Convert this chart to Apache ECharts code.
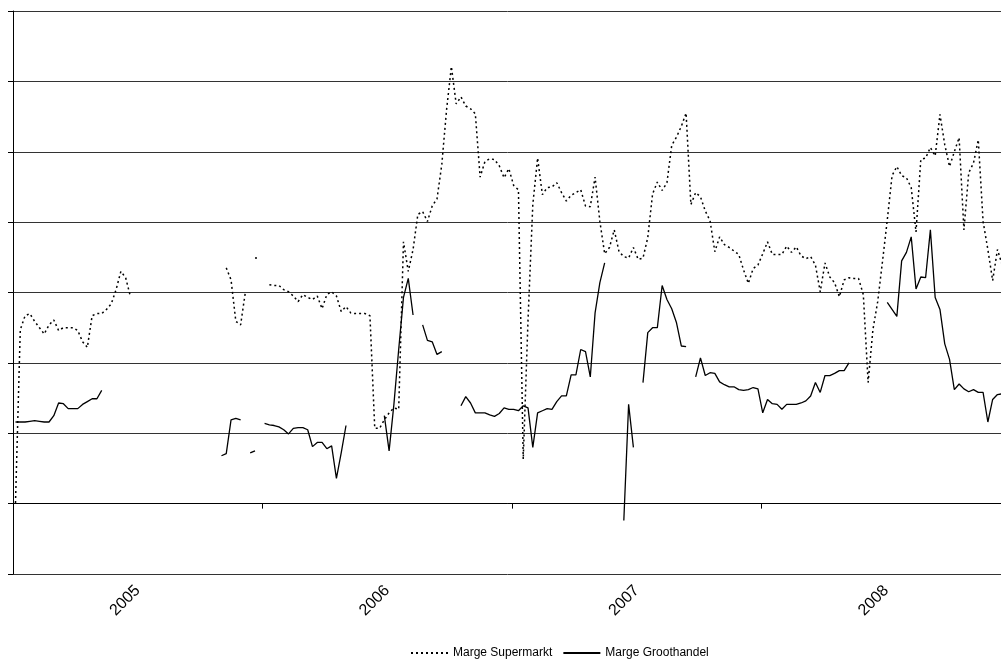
<!DOCTYPE html>
<html>
<head>
<meta charset="utf-8">
<script src="https://cdn.jsdelivr.net/npm/echarts@6.0.0/dist/echarts.min.js"></script>
<style>
  html, body { margin: 0; padding: 0; background: #fff; }
  #main { width: 1001px; height: 662px; }
</style>
</head>
<body>
<div id="main"></div>
<script>
// jaren op de x-as
var years = ['2005', '2006', '2007', '2008'];

// marges per week (week 0 = begin 2005), null = geen waarde
var supermarkt = [
  0.1, 24.7, 26.7, 27.0, 25.9, 25.0, 24.1, 25.4, 26.1, 24.6,
  25.0, 25.0, 25.0, 24.6, 23.0, 22.2, 26.7, 27.0, 27.0, 27.6,
  28.4, 30.4, 33.0, 32.1, 29.4, null, null, null, null, null,
  null, null, null, null, null, null, null, null, null, null,
  null, null, null, null, 33.5, 31.8, 25.9, 25.4, 30.1, null,
  34.9, 34.9, null, 31.1, 31.0, 31.0, 30.4, 30.1, 29.5, 28.7,
  29.7, 29.3, 29.0, 29.5, 27.7, 29.7, 30.1, 29.5, 27.3, 28.0,
  27.1, 27.0, 27.0, 27.0, 26.7, 10.7, 10.7, 11.9, 12.9, 13.6,
  13.4, 37.2, 33.0, 36.1, 41.1, 41.5, 40.1, 42.3, 43.3, 48.2,
  56.0, 62.1, 56.8, 57.8, 56.5, 56.1, 55.4, 46.4, 48.6, 49.0,
  48.9, 48.0, 46.3, 47.6, 45.2, 44.6, 6.3, 26.1, 42.5, 49.1,
  43.9, 44.9, 45.0, 45.6, 44.2, 43.0, 43.8, 44.2, 44.6, 42.3,
  42.2, 46.4, 40.1, 35.5, 36.4, 38.9, 35.8, 35.1, 34.9, 36.4,
  34.7, 34.9, 37.8, 44.0, 45.7, 44.5, 45.6, 50.9, 52.1, 53.6,
  55.5, 42.5, 44.2, 43.6, 41.6, 40.2, 35.8, 37.9, 36.8, 36.4,
  35.9, 35.4, 33.2, 31.3, 33.4, 33.9, 35.5, 37.2, 35.4, 35.4,
  35.4, 36.6, 35.7, 36.5, 35.2, 34.8, 35.1, 33.9, 30.1, 34.2,
  32.2, 31.4, 29.4, 31.8, 32.1, 32.0, 32.0, 29.7, 17.2, 24.7,
  28.7, 34.4, 40.3, 46.6, 47.9, 46.6, 46.3, 44.9, 38.6, 48.9,
  49.1, 50.6, 49.4, 55.3, 51.0, 47.9, 50.0, 52.0, 38.9, 47.0,
  48.4, 51.7, 40.1, 36.1, 31.7, 36.1, 33.9
];

var groothandel = [
  11.6, 11.6, 11.6, 11.7, 11.8, 11.7, 11.6, 11.6, 12.5, 14.3,
  14.2, 13.5, 13.5, 13.5, 14.1, 14.5, 14.9, 14.9, 16.1, null,
  null, null, null, null, null, null, null, null, null, null,
  null, null, null, null, null, null, null, null, null, null,
  null, null, null, 6.8, 7.1, 11.9, 12.1, 11.9, null, 7.2,
  7.5, null, 11.4, 11.2, 11.1, 10.9, 10.5, 9.9, 10.7, 10.8,
  10.8, 10.5, 8.1, 8.7, 8.7, 7.8, 8.2, 3.6, 7.2, 11.1,
  null, null, null, null, null, null, null, 12.5, 7.5, 14.1,
  21.9, 29.3, 32.0, 26.8, null, 25.4, 23.2, 23.0, 21.2, 21.6,
  null, null, null, 13.9, 15.2, 14.3, 12.9, 12.9, 12.9, 12.6,
  12.4, 12.8, 13.6, 13.4, 13.4, 13.2, 13.9, 13.6, 8.0, 12.9,
  13.2, 13.5, 13.4, 14.5, 15.3, 15.3, 18.3, 18.3, 21.9, 21.6,
  18.0, 27.1, 31.4, 34.2, null, null, null, -2.4, 14.1, 8.0,
  null, 17.2, 24.3, 25.0, 25.0, 31.0, 29.0, 27.7, 25.7, 22.4,
  22.3, null, 18.0, 20.7, 18.2, 18.6, 18.5, 17.3, 16.9, 16.6,
  16.6, 16.2, 16.1, 16.2, 16.5, 16.3, 12.9, 14.8, 14.2, 14.1,
  13.4, 14.1, 14.1, 14.1, 14.3, 14.6, 15.3, 17.2, 15.8, 18.2,
  18.2, 18.5, 18.9, 18.9, 20.0, null, null, null, null, null,
  null, null, 28.6, 27.6, 26.6, 34.5, 35.7, 37.9, 30.5, 32.2,
  32.1, 38.9, 29.3, 27.6, 22.7, 20.5, 16.2, 17.0, 16.3, 15.9,
  16.2, 15.8, 15.8, 11.6, 14.8, 15.5, 15.6
];

// weekas: 4 jaar over de volle breedte van het plotvlak
var startWeek = -0.52;
var endWeek = 207.83;

function toPairs(arr) {
  return arr.map(function (v, i) { return [i, v]; });
}

var fontFam = 'Arial, "Liberation Sans", sans-serif';

var chart = echarts.init(document.getElementById('main'));

var option = {
  animation: false,
  backgroundColor: '#fff',
  grid: {
    left: 13,
    top: 11,
    right: -10,
    bottom: 88,
    containLabel: false,
    outerBoundsMode: 'none'
  },
  legend: {
    bottom: -2,
    left: 405,
    itemWidth: 37,
    itemGap: 10,
    itemStyle: { opacity: 0 },
    textStyle: { color: '#000', fontSize: 12, fontFamily: fontFam },
    data: ['Marge Supermarkt', 'Marge Groothandel']
  },
  xAxis: [
    {
      type: 'value',
      min: startWeek,
      max: endWeek,
      show: false,
      axisLine: { onZero: false }
    },
    {
      type: 'category',
      position: 'bottom',
      data: years,
      boundaryGap: true,
      axisLine: { show: true, onZero: true, lineStyle: { color: '#000', width: 1 } },
      axisTick: { show: true, length: 5, lineStyle: { color: '#000' } },
      axisLabel: {
        rotate: 45,
        margin: 14,
        color: '#000',
        fontSize: 16,
        fontFamily: fontFam
      },
      splitLine: { show: false }
    }
  ],
  yAxis: {
    type: 'value',
    min: -10,
    max: 70,
    interval: 10,
    axisLine: { show: true, onZero: false, lineStyle: { color: '#000', width: 1 } },
    axisTick: { show: true, length: 5, lineStyle: { color: '#000' } },
    axisLabel: { show: false },
    splitLine: { show: true, lineStyle: { color: '#333', width: 1 } }
  },
  series: [
    {
      name: 'Marge Supermarkt',
      type: 'line',
      xAxisIndex: 0,
      data: toPairs(supermarkt),
      symbol: 'none',
      connectNulls: false,
      lineStyle: { color: '#000', width: 1.5, type: [2, 3] },
      itemStyle: { color: '#000' }
    },
    {
      name: 'Marge Groothandel',
      type: 'line',
      xAxisIndex: 0,
      data: toPairs(groothandel),
      symbol: 'none',
      connectNulls: false,
      lineStyle: { color: '#000', width: 1.3 },
      itemStyle: { color: '#000' }
    }
  ]
};

chart.setOption(option);
</script>
</body>
</html>
